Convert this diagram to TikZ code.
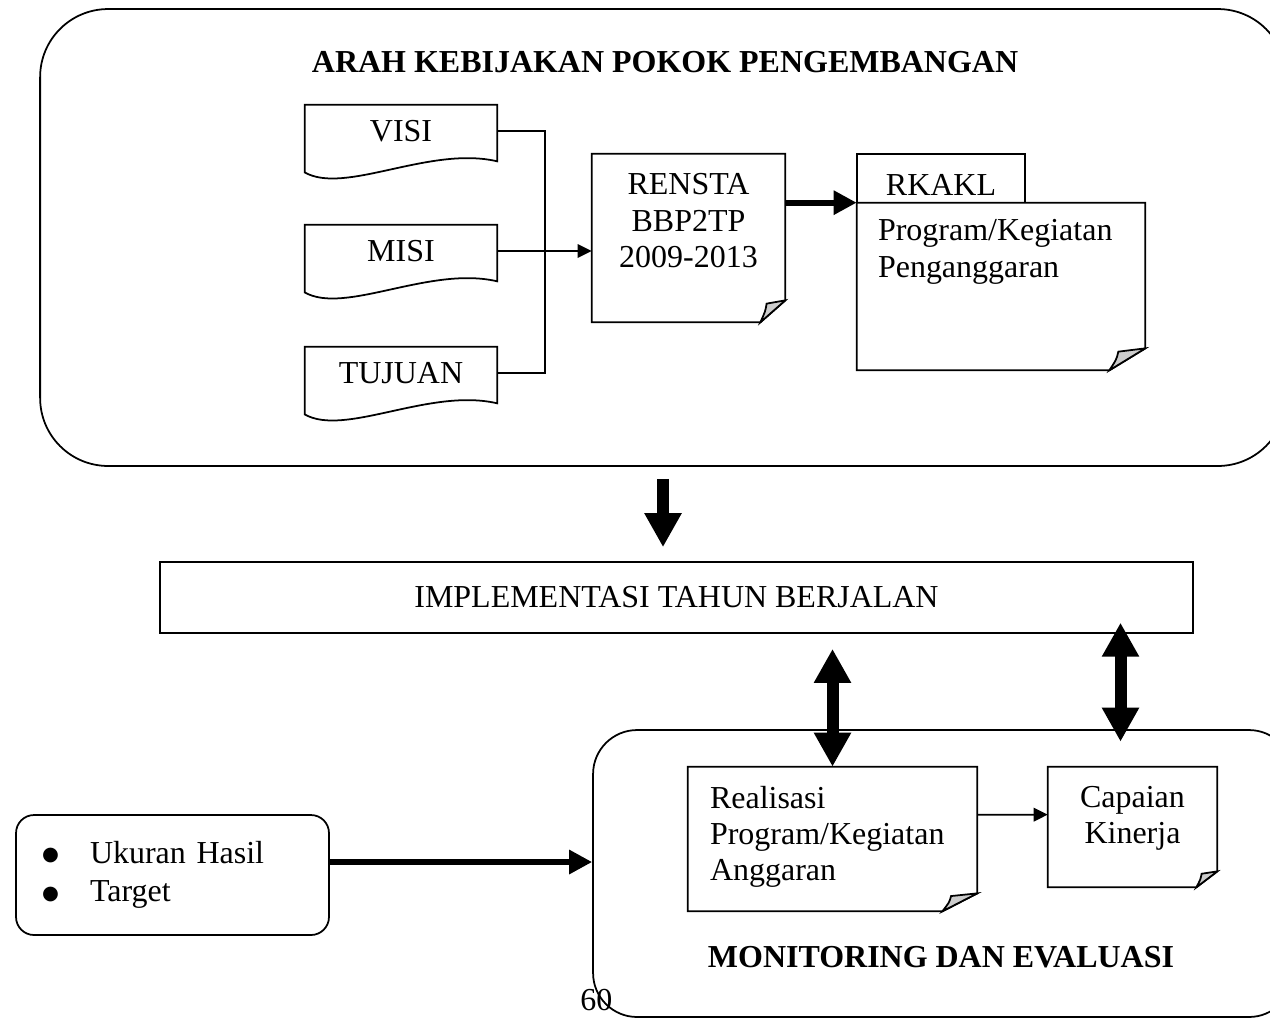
\documentclass[tikz,border=0pt]{standalone}
\usepackage{fontspec}
\setmainfont{Liberation Serif}
\newfontfamily\symfont{DejaVu Sans}
\usetikzlibrary{arrows.meta,positioning,calc}
\newcommand{\blt}{\makebox[0.96cm][l]{\raisebox{1.5pt}{\symfont\fontsize{11}{11}\selectfont ●}}}
\tikzset{
  frame/.style={draw, line width=1pt, inner sep=0pt},
  doc/.style={minimum width=3.84cm, minimum height=1.04cm, inner sep=0pt},
  note/.style={inner sep=0pt},
  txt/.style={inner sep=0pt, align=left},
  bold/.style={font=\fontsize{18.2}{20.7}\selectfont\bfseries},
  line/.style={line width=1pt},
  arrow/.style={-{Triangle[length=0.28cm,width=0.27cm]}, line width=1pt},
  medarrow/.style={-{Triangle[length=0.46cm,width=0.46cm]}, line width=0.12cm},
  fatarrow/.style={-{Triangle[length=0.68cm,width=0.7cm]}, line width=0.24cm},
  fatboth/.style={{Triangle[length=0.68cm,width=0.7cm]}-{Triangle[length=0.68cm,width=0.7cm]}, line width=0.24cm}
}

\begin{document}
\begin{tikzpicture}[x=0.02cm, y=-0.02cm, font=\fontsize{18.2}{20.7}\selectfont]
\useasboundingbox (0,0) rectangle (1270,1019);
\clip (0,0) rectangle (1270,1019);

% arah kebijakan
\node[frame, rounded corners=1.36cm, minimum width=24.92cm, minimum height=9.14cm] (arah) at (663,237.5) {};
\node[bold] (title) at (665,62) {ARAH KEBIJAKAN POKOK PENGEMBANGAN};

\node[doc] (visi) at (401,131) {VISI};
\node[doc] (misi) at (401,251) {MISI};
\node[doc] (tujuan) at (401,373) {TUJUAN};
\foreach \n in {visi,misi,tujuan}
  \draw[line] (\n.north west) -- (\n.north east) -- ($(\n.south east)+(0,4)$)
    .. controls ($(\n.south west)+(125,-12)$) and ($(\n.south west)+(40,38)$) .. ($(\n.south west)+(0,15)$) -- cycle;

\node[note, minimum width=3.86cm, minimum height=3.36cm] (rensta) at (688.5,238) {};
\node[frame, minimum width=3.36cm, minimum height=1.24cm] (rkakl) at (941,185) {RKAKL};
\node[note, minimum width=5.76cm, minimum height=3.34cm] (prog) at (1001,286.5) {};

% implementasi dan monev
\node[frame, minimum width=20.66cm, minimum height=1.42cm] (impl) at (676.5,597.5) {IMPLEMENTASI TAHUN BERJALAN};
\node[frame, rounded corners=0.88cm, minimum width=14cm, minimum height=5.74cm] (monev) at (943,873.5) {};
\node[bold] (monevtitle) at (941,957) {MONITORING DAN EVALUASI};
\node[note, minimum width=5.78cm, minimum height=2.88cm] (realisasi) at (832.5,839) {};
\node[note, minimum width=3.38cm, minimum height=2.4cm] (capaian) at (1132.5,827) {};
\node[frame, rounded corners=0.36cm, minimum height=2.4cm, text width=5.22cm, inner xsep=0.52cm, align=left] (ukuran) at (172.5,875)
  {\blt Ukuran Hasil\\[1pt]\blt Target};

% folded corners
\foreach \n/\fw/\fh in {rensta/25/22, prog/36/22, realisasi/35/18, capaian/21/16} {
  \draw[line, fill=white] (\n.north west) -- (\n.north east) -- ($(\n.south east)+(0,-\fh)$)
    -- ($(\n.south east)+(-\fw,0)$) -- (\n.south west) -- cycle;
  \draw[line, fill=gray!40] ($(\n.south east)+(-\fw,0)$) .. controls ($(\n.south east)+(-0.8*\fw,-0.5*\fh)$)
    .. ($(\n.south east)+(-0.75*\fw,-0.85*\fh)$) -- ($(\n.south east)+(0,-\fh)$) -- cycle;
}
\node[txt, align=center, below=0.39cm of rensta.north] (renstatxt) {RENSTA\\BBP2TP\\2009-2013};
\node[txt, below right=0.33cm and 0.42cm of prog.north west] (progtxt) {Program/Kegiatan\\Penganggaran};
\node[txt, below right=0.38cm and 0.44cm of realisasi.north west] (realisasitxt) {Realisasi\\Program/Kegiatan\\Anggaran};
\node[txt, align=center, below=0.38cm of capaian.north] (capaiantxt) {Capaian\\Kinerja};
\node[txt, anchor=north west] (hal) at (580,989) {60};

% connectors
\draw[line] (visi.east) -- ++(48,0) |- (tujuan.east);
\draw[arrow] (misi.east) -- (misi.east -| rensta.west);
\draw[medarrow] (rensta.east |- prog.north) -- (prog.north west);
\draw[fatarrow, shorten <=0.24cm, shorten >=0.28cm] (arah.south) -- (arah.south |- impl.north);
\draw[fatboth, shorten <=0.3cm] (realisasi.north |- impl.south) -- (realisasi.north);
\draw[fatboth] ($(capaian.north)+(-12,-144)$) -- ($(capaian.north)+(-12,-25)$);
\draw[arrow] ($(realisasi.north east)+(0,48)$) -- ($(capaian.north west)+(0,48)$);
\draw[medarrow] ($(ukuran.east)+(0,-13)$) -- ($(ukuran.east -| monev.west)+(0,-13)$);
\end{tikzpicture}
\end{document}
